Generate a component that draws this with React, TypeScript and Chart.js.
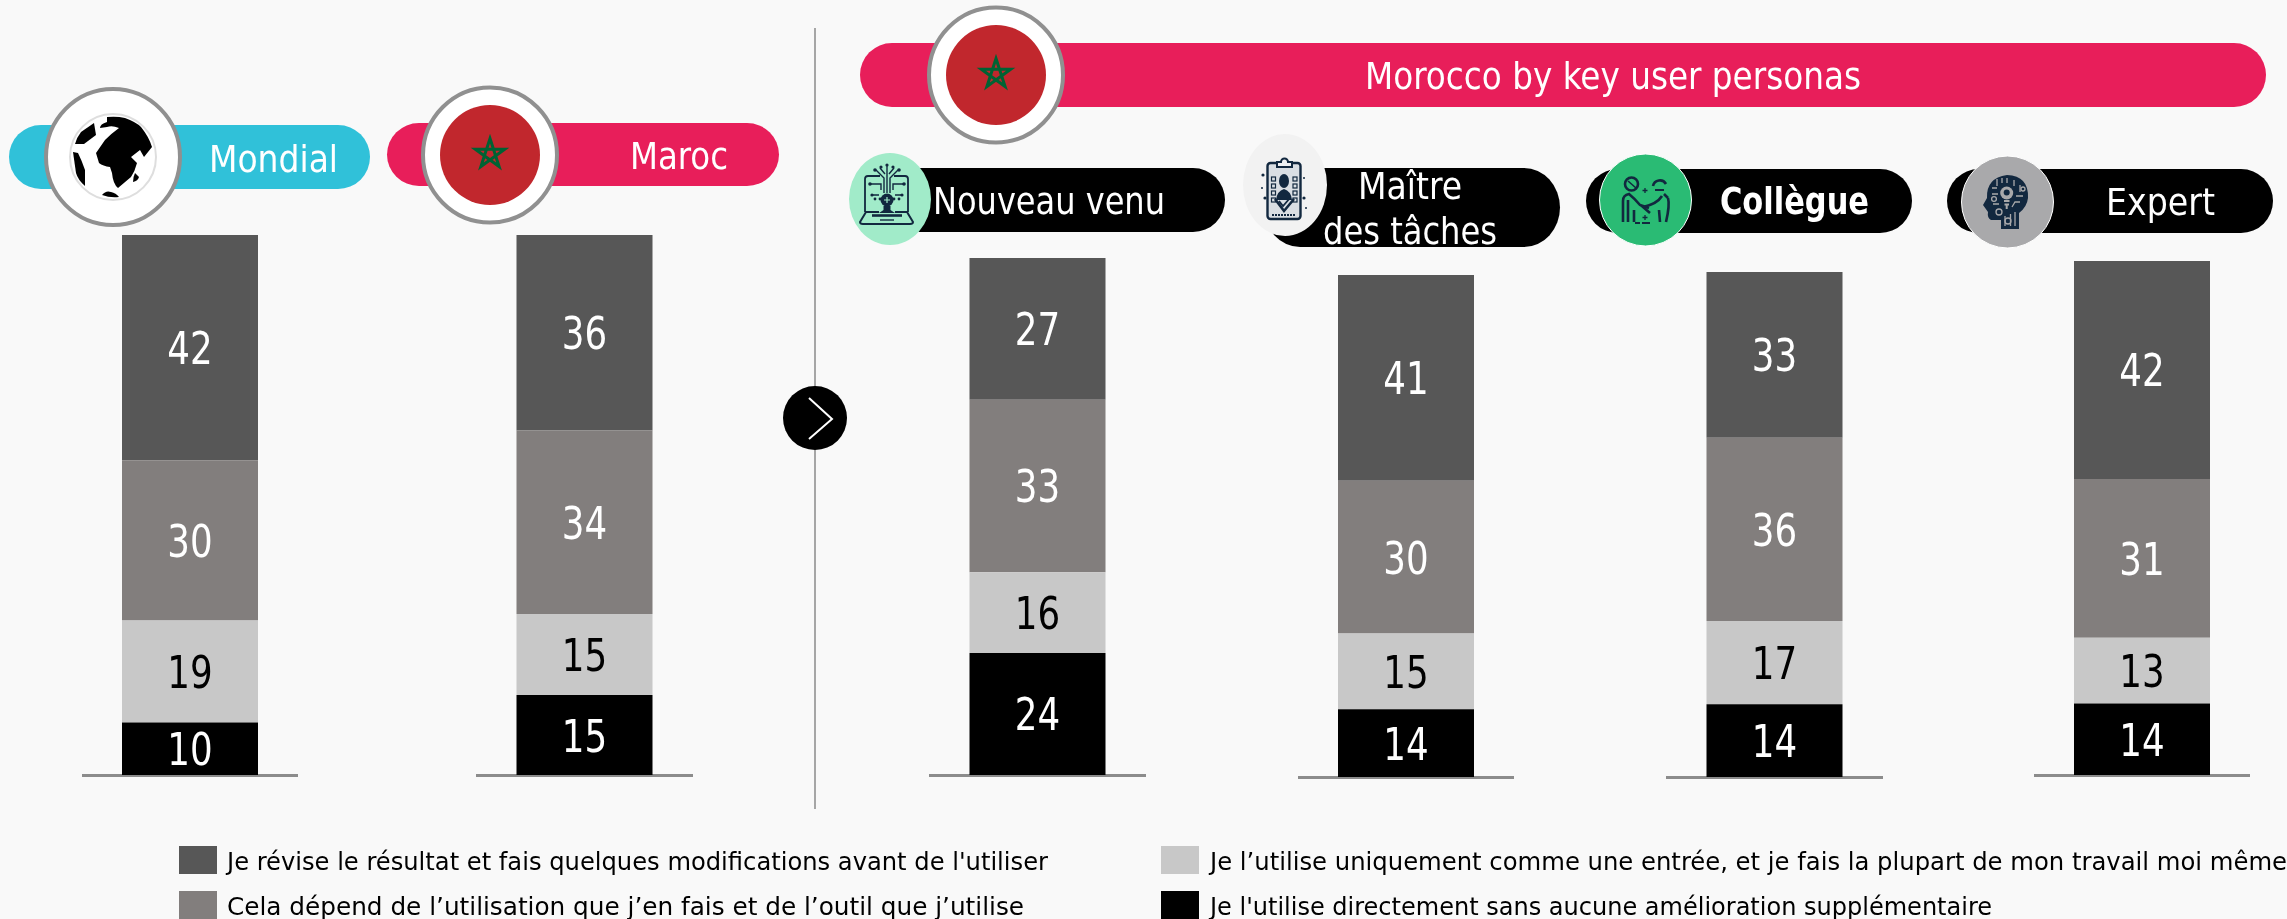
import React, { useEffect, useRef } from "react";
import { Chart, registerables } from "chart.js";

Chart.register(...registerables);

const FONT = '"DejaVu Sans Condensed", "DejaVu Sans", sans-serif';

const categories = ["Mondial", "Maroc", "Nouveau venu", "Maître des tâches", "Collègue", "Expert"];
const reviseValues = [42, 36.2, 27.4, 41, 32.8, 42.4];
const dependValues = [29.9, 34, 33.4, 30.4, 36.3, 30.9];
const inputValues = [19, 15, 15.6, 15.1, 16.5, 12.8];
const directValues = [9.8, 14.8, 23.6, 13.5, 14.4, 13.9];

const legendRevise = "Je révise le résultat et fais quelques modifications avant de l'utiliser";
const legendDepend = "Cela dépend de l’utilisation que j’en fais et de l’outil que j’utilise";
const legendInput = "Je l’utilise uniquement comme une entrée, et je fais la plupart de mon travail moi même";
const legendDirect = "Je l'utilise directement sans aucune amélioration supplémentaire";

const colorRevise = "#575757";
const colorDepend = "#827e7d";
const colorInput = "#c8c8c8";
const colorDirect = "#000000";

const frames = [
  { left: 82, width: 216, top: 235, bottom: 775 },
  { left: 476, width: 217, top: 235, bottom: 775 },
  { left: 929, width: 217, top: 258, bottom: 775 },
  { left: 1298, width: 216, top: 275, bottom: 777 },
  { left: 1666, width: 217, top: 272, bottom: 777 },
  { left: 2034, width: 216, top: 261, bottom: 775 },
];

const labelPlugin = {
  id: "segmentLabels",
  afterDatasetsDraw(chart: any) {
    const ctx = chart.ctx;
    chart.data.datasets.forEach((ds: any, i: number) => {
      const meta = chart.getDatasetMeta(i);
      const p = meta.data[0].getProps(["x", "y", "base"], true);
      ctx.save();
      ctx.font = `44px ${FONT}`;
      ctx.textAlign = "center";
      ctx.textBaseline = "alphabetic";
      ctx.fillStyle = ds.backgroundColor === colorInput ? "#000000" : "#ffffff";
      ctx.translate(p.x, (p.y + p.base) / 2 + 16.5);
      ctx.scale(0.9, 1);
      ctx.fillText(String(Math.round(ds.data[0])), 0, 0);
      ctx.restore();
    });
  },
};

function MiniChart({ index }: { index: number }) {
  const ref = useRef<HTMLCanvasElement>(null);
  const f = frames[index];
  useEffect(() => {
    const total = reviseValues[index] + dependValues[index] + inputValues[index] + directValues[index];
    const common = { barPercentage: 136 / f.width, categoryPercentage: 1, borderWidth: 0, stack: "s" };
    const chart = new Chart(ref.current as HTMLCanvasElement, {
      type: "bar",
      data: {
        labels: [categories[index]],
        datasets: [
          { label: legendDirect, data: [directValues[index]], backgroundColor: colorDirect, ...common },
          { label: legendInput, data: [inputValues[index]], backgroundColor: colorInput, ...common },
          { label: legendDepend, data: [dependValues[index]], backgroundColor: colorDepend, ...common },
          { label: legendRevise, data: [reviseValues[index]], backgroundColor: colorRevise, ...common },
        ],
      },
      options: {
        responsive: false,
        animation: false,
        layout: { padding: { bottom: 3 } },
        plugins: { legend: { display: false }, tooltip: { enabled: false } },
        scales: {
          x: {
            stacked: true,
            grid: { display: false, drawTicks: false },
            ticks: { display: false },
            border: { display: true, color: "#8c8c8c", width: 3 },
          },
          y: { stacked: true, display: false, min: 0, max: total },
        },
      },
      plugins: [labelPlugin],
    } as any);
    return () => chart.destroy();
  }, []);
  return (
    <canvas
      ref={ref}
      width={f.width}
      height={f.bottom - f.top + 3}
      style={{ position: "absolute", left: f.left, top: f.top, width: f.width, height: f.bottom - f.top + 3 }}
    />
  );
}

function Txt({ x, w, y, size = 38, fill = "#fff", weight = 400, children }: any) {
  return (
    <text
      x={x}
      y={y}
      textLength={w}
      lengthAdjust="spacingAndGlyphs"
      fontFamily={FONT}
      fontSize={size}
      fontWeight={weight}
      fill={fill}
    >
      {children}
    </text>
  );
}

function Pill({ x1, x2, y1, y2, fill, r }: any) {
  const h = y2 - y1;
  return <rect x={x1} y={y1} width={x2 - x1} height={h} rx={r ?? h / 2} ry={h / 2} fill={fill} />;
}

function star(cx: number, cy: number, R: number) {
  const pts: string[] = [];
  for (let i = 0; i < 5; i++) {
    const a = -Math.PI / 2 + (i * 2 * 2 * Math.PI) / 5;
    pts.push(`${(cx + R * Math.cos(a)).toFixed(1)},${(cy + R * Math.sin(a)).toFixed(1)}`);
  }
  return pts.join(" ");
}

function FlagBadge({ cx, cy }: any) {
  return (
    <g>
      <ellipse cx={cx} cy={cy} rx={67} ry={67.5} fill="#fff" stroke="#909090" strokeWidth={4} />
      <ellipse cx={cx} cy={cy} rx={50} ry={50} fill="#c1272d" />
      <polygon points={star(cx, cy - 1, 15.5)} fill="none" stroke="#006233" strokeWidth={3} strokeLinejoin="miter" />
    </g>
  );
}

function GlobeBadge() {
  return (
    <g>
      <ellipse cx={113} cy={157} rx={67} ry={68} fill="#fff" stroke="#909090" strokeWidth={4} />
      <ellipse cx={113} cy={157} rx={43} ry={43} fill="#fff" stroke="#dedede" strokeWidth={2} />
      <g fill="#000">
        <path d="M107 117 Q117 116 125 118 Q136 122 141 127 Q149 137 152 147 L144 157 L140 150 L131 157 L137 163 Q135 171 131 177 L118 188 Q113 184 112 173 L110 167 Q103 166 99 163 L96 153 L105 140 Q112 133 119 128 Q112 125 107 127 L100 128 Q100 124 107 122Z" />
        <path d="M94 123 L96 135 L84 144 L75 144 Q77 137 81 132Z" />
        <path d="M73 152 L78 153 Q82 161 85 170 L85 186 Q78 180 76 173Z" />
        <path d="M102 195 Q106 190 111 192 Q116 193 119 197 Q110 198 102 195Z" />
        <path d="M135 173 L139 177 Q138 181 133 182 Q133 177 135 173Z" />
      </g>
    </g>
  );
}

const NAVY = "#12283f";

function IconLaptop() {
  return (
    <g stroke={NAVY} fill="none" strokeWidth={1.8}>
      <path d="M880 176 L868 176 Q865 176 865 179 L865 212 M894 176 L905 176 Q908 176 908 179 L908 212" />
      <path d="M865 212 L879 212 M895 212 L908 212" />
      <path d="M866 212 L860 222 Q860 224 863 224 L910 224 Q913 224 913 222 L907 212" strokeWidth={2} />
      <path d="M872 215.5 L902 215.5" strokeWidth={2.6} />
      <path d="M880 220 L894 220" strokeWidth={1.4} />
      <circle cx={887} cy={200} r={6.5} fill={NAVY} stroke="none" />
      <path d="M883.5 206 L890.5 206 L890.5 210 L895 213 L879 213 L883.5 210Z" fill={NAVY} stroke="none" />
      <path d="M884 200 L890 200 M887 197 L887 203" stroke="#a1ebc9" strokeWidth={1.2} />
      <path d="M887 193 L887 165 M884 193 L884 178 L876 170 M890 193 L890 178 L898 170 M881 190 L881 184 L870 184 M893 190 L893 184 L904 184 M879 195 L872 195 M895 195 L902 195 M885 174 L880 168 M889 174 L894 168" strokeWidth={1.4} />
      <g fill={NAVY} stroke="none">
        <circle cx={887} cy={165} r={1.6} />
        <circle cx={881} cy={167} r={1.6} />
        <circle cx={893} cy={167} r={1.6} />
        <circle cx={875} cy={170} r={1.8} />
        <circle cx={899} cy={170} r={1.8} />
        <circle cx={870} cy={184} r={1.8} />
        <circle cx={904} cy={184} r={1.8} />
        <circle cx={872} cy={195} r={1.6} />
        <circle cx={902} cy={195} r={1.6} />
        <circle cx={875} cy={199} r={1.4} />
        <circle cx={880} cy={199} r={1.4} />
        <circle cx={894} cy={199} r={1.4} />
        <circle cx={899} cy={199} r={1.4} />
      </g>
    </g>
  );
}

function IconClipboard() {
  const rows = [177, 184, 191, 198];
  return (
    <g>
      <rect x={1267.5} y={163} width={33} height={56} rx={3} fill="#d9dee3" stroke={NAVY} strokeWidth={2.4} />
      <path d="M1277 167 L1277 162 L1281 162 A3.5 3.5 0 0 1 1288 162 L1292 162 L1292 167Z" fill="#eef0f2" stroke={NAVY} strokeWidth={2} />
      {rows.map((y) => (
        <g key={y}>
          <rect x={1271.5} y={y} width={4} height={4} fill="none" stroke={NAVY} strokeWidth={1.2} />
          <rect x={1293} y={y} width={4} height={4} fill="none" stroke={NAVY} strokeWidth={1.2} />
        </g>
      ))}
      <ellipse cx={1284} cy={181} rx={5} ry={7} fill={NAVY} />
      <path d="M1276 200 Q1277 191 1284 189 Q1291 191 1292 200Z" fill={NAVY} />
      <path d="M1275 199 L1284 211 L1294 199" fill="none" stroke={NAVY} strokeWidth={2.6} />
      <path d="M1279 201 L1283 206 L1290 198" fill="none" stroke={NAVY} strokeWidth={1.8} />
      <path d="M1272 215 L1296 215" stroke={NAVY} strokeWidth={2} strokeDasharray="2 1" />
      <g fill={NAVY}>
        <circle cx={1263} cy={175} r={1.6} />
        <circle cx={1265} cy={198} r={1.6} />
        <circle cx={1304} cy={198} r={1.6} />
        <circle cx={1304} cy={178} r={1} />
        <circle cx={1306} cy={208} r={1} />
        <circle cx={1262} cy={188} r={1} />
      </g>
    </g>
  );
}

function IconShake() {
  return (
    <g stroke={NAVY} fill="none" strokeWidth={2.6}>
      <circle cx={1631.5} cy={184} r={6.5} />
      <path d="M1628 181 L1636 188" strokeWidth={1.6} />
      <path d="M1653 186 A7 7 0 0 1 1666 184" />
      <path d="M1655 190 L1664 190" strokeWidth={2} />
      <path d="M1623 222 L1623 201 Q1623 195 1629 194 Q1634 198 1640 205 L1649 208 M1628 200 L1628 222 M1634 210 L1634 222" />
      <path d="M1668 198 Q1670 205 1666 222 M1662 196 Q1657 204 1643 207 L1650 213 M1659 210 L1660 222 M1664 194 L1668 198" />
      <path d="M1635 223 L1640 223 M1642 223 L1650 223" strokeWidth={1.8} />
      <path d="M1645 188 L1645 193 M1642.5 190.5 L1647.5 190.5 M1645 215 L1645 220 M1642.5 217.5 L1647.5 217.5" strokeWidth={1.3} />
    </g>
  );
}

function IconHead() {
  return (
    <g>
      <path
        d="M2007 175 Q2029 176 2028 198 Q2027 207 2019 213 L2019 229 L2001 229 L2001 220 L1991 220 Q1987 218 1988 212 L1983 205 L1987 198 Q1986 178 2007 175Z"
        fill={NAVY}
      />
      <circle cx={2006.7} cy={193} r={6.5} fill="#a9a9ab" />
      <circle cx={2006.7} cy={192.5} r={3} fill={NAVY} />
      <path d="M2004 201 L2009.5 201 M2004.5 204.5 L2009 204.5 M2006.7 205 L2006.7 209" stroke="#a9a9ab" strokeWidth={2} />
      <path
        d="M2014 180 L2014 186 M2020 185 L2020 192 M2023 196 L2016 196 M2020 202 L2015 202 L2012 207 M2015 212 L2015 226 M2010.5 214 L2010.5 226 M2005 216 L2005 226 M1997 179 L1997 186 M2002 178 L2002 183 M1992 188 L1997 188 M1992 194 L1998 194 M1993 204 L1999 204 M2007 178 L2007 183"
        stroke="#a9a9ab"
        strokeWidth={1.3}
        fill="none"
      />
      <g fill="none" stroke="#a9a9ab" strokeWidth={1.3}>
        <circle cx={1994} cy={199} r={2.4} />
        <circle cx={1999} cy={212} r={3} />
        <circle cx={2008} cy={221} r={3} />
        <circle cx={2023} cy={189} r={2} />
      </g>
    </g>
  );
}

function Overlay() {
  return (
    <svg width={2287} height={919} viewBox="0 0 2287 919" style={{ position: "absolute", left: 0, top: 0 }}>
      {/* divider */}
      <line x1={815} y1={28} x2={815} y2={809} stroke="#a6a6a6" strokeWidth={2} />
      <circle cx={815} cy={418} r={32} fill="#000" />
      <path d="M809 398 L832 419 L809 439" fill="none" stroke="#fff" strokeWidth={2} />

      {/* Mondial */}
      <Pill x1={9} x2={370} y1={125} y2={189} fill="#30c1d9" r={32} />
      <GlobeBadge />
      <Txt x={209} w={129} y={172}>Mondial</Txt>

      {/* Maroc */}
      <Pill x1={387} x2={779} y1={123} y2={186} fill="#e81e5a" r={32} />
      <FlagBadge cx={490} cy={155} />
      <Txt x={630} w={98} y={169}>Maroc</Txt>

      {/* Morocco header */}
      <Pill x1={860} x2={2266} y1={43} y2={107} fill="#e81e5a" r={32} />
      <FlagBadge cx={996} cy={75} />
      <Txt x={1365} w={496} y={89}>Morocco by key user personas</Txt>

      {/* Nouveau venu */}
      <Pill x1={860} x2={1225} y1={168} y2={232} fill="#000" r={32} />
      <ellipse cx={890} cy={199} rx={41} ry={46} fill="#a1ebc9" />
      <IconLaptop />
      <Txt x={933} w={232} y={214}>Nouveau venu</Txt>

      {/* Maître des tâches */}
      <Pill x1={1264} x2={1560} y1={168} y2={247} fill="#000" r={36} />
      <ellipse cx={1285} cy={185} rx={42} ry={51} fill="#f2f2f2" />
      <IconClipboard />
      <Txt x={1358} w={104} y={199}>Maître</Txt>
      <Txt x={1323} w={174} y={244}>des tâches</Txt>

      {/* Collègue */}
      <Pill x1={1586} x2={1912} y1={169} y2={233} fill="#000" r={32} />
      <ellipse cx={1645.5} cy={200} rx={46} ry={46} fill="#2abb74" stroke="#fff" strokeWidth={1} />
      <IconShake />
      <Txt x={1720} w={149} y={214} weight={700}>Collègue</Txt>

      {/* Expert */}
      <Pill x1={1947} x2={2273} y1={169} y2={233} fill="#000" r={32} />
      <ellipse cx={2007.5} cy={202} rx={46} ry={46} fill="#a9a9ab" stroke="#fff" strokeWidth={1} />
      <IconHead />
      <Txt x={2106} w={109} y={215}>Expert</Txt>

      {/* legend */}
      <rect x={179} y={846} width={38} height={28} fill={colorRevise} />
      <Txt x={227} w={821} y={870} size={24} fill="#000">{legendRevise}</Txt>
      <rect x={179} y={891} width={38} height={28} fill={colorDepend} />
      <Txt x={227} w={797} y={915} size={24} fill="#000">{legendDepend}</Txt>
      <rect x={1161} y={846} width={38} height={28} fill={colorInput} />
      <Txt x={1210} w={1077} y={870} size={24} fill="#000">{legendInput}</Txt>
      <rect x={1161} y={891} width={38} height={28} fill={colorDirect} />
      <Txt x={1210} w={782} y={915} size={24} fill="#000">{legendDirect}</Txt>
    </svg>
  );
}

export default function App() {
  return (
    <div style={{ position: "absolute", left: 0, top: 0, width: 2287, height: 919, background: "#f9f9f9", overflow: "hidden" }}>
      {categories.map((_, i) => (
        <MiniChart key={i} index={i} />
      ))}
      <Overlay />
    </div>
  );
}
